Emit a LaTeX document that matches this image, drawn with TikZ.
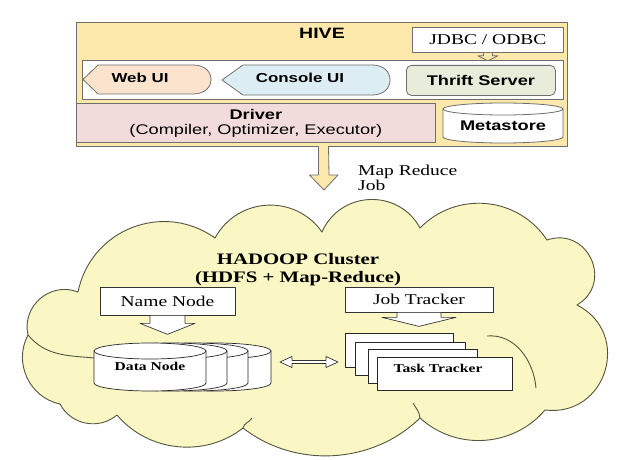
\documentclass[tikz,border=0pt]{standalone}
\usepackage{fontspec}
\setmainfont{Liberation Serif}[FakeStretch=1.3]
\setsansfont{Liberation Sans}[FakeStretch=1.3]
\usetikzlibrary{calc}
\definecolor{hivefill}{HTML}{FCE8AA}
\definecolor{drvfill}{HTML}{F2DCDB}
\definecolor{webfill}{HTML}{FBE3CD}
\definecolor{confill}{HTML}{DCEEF4}
\definecolor{thrfill}{HTML}{E8ECDA}
\definecolor{cloudfill}{HTML}{FAF7C4}
\definecolor{edgec}{HTML}{6E6E6E}
\definecolor{cloudedge}{HTML}{55553F}
\newcommand{\mycyl}[7]{%
  \filldraw[#7] (#1,#3) -- (#1,#4) arc[start angle=180,end angle=360,x radius=#5pt,y radius=#6pt] -- (#2,#3) -- cycle;
  \filldraw[#7] ({(#1+#2)/2},#3) ellipse[x radius=#5pt,y radius=#6pt];}
\begin{document}
\begin{tikzpicture}[x=1pt,y=-1pt,line join=round,
  hiveline/.style={draw=edgec,line width=0.8pt},
  sfb/.style={inner sep=0pt,font=\sffamily\bfseries\fontsize{13}{15}\selectfont},
  serifbox/.style={draw=black!80,line width=0.7pt,fill=white,inner sep=0pt,font=\fontsize{15}{17}\selectfont},
  cylst/.style={draw=black!85,line width=0.7pt,fill=white},
  blk/.style={draw=black!80,line width=0.7pt,fill=white},
  sheet/.style={draw=black!85,line width=0.7pt,fill=white,inner sep=0pt},
  cloudline/.style={draw=cloudedge,line width=0.9pt}]
\useasboundingbox (0,0) rectangle (621,460);
\fill[white] (0,0) rectangle (621,460);

% ---------------- HIVE ----------------
\node[hiveline,fill=hivefill,anchor=north west,minimum width=491pt,minimum height=124pt,inner sep=0pt] (hive) at (76,22) {};
\node[sfb,font=\sffamily\bfseries\fontsize{15}{17}\selectfont] (hivelbl) at (322,33) {HIVE};
\node[hiveline,fill=white,anchor=north west,minimum width=151pt,minimum height=25pt,inner sep=0pt,font=\fontsize{15}{17}\selectfont] (jdbc) at (412,27) {JDBC / ODBC};
\node[hiveline,fill=white,anchor=north west,minimum width=481pt,minimum height=39pt,inner sep=0pt] (strip) at (82,60) {};
\filldraw[hiveline,fill=webfill] (83,79.5) -- (98,65) -- (193,65) .. controls (205,65) and (211,72) .. (211,79.5) .. controls (211,87) and (205,94) .. (193,94) -- (98,94) -- cycle;
\node[sfb] (webl) at (140,78) {Web UI};
\filldraw[hiveline,fill=confill] (222,80) -- (243,65) -- (372,65) .. controls (384,65) and (390,72) .. (390,80) .. controls (390,88) and (384,95) .. (372,95) -- (243,95) -- cycle;
\node[sfb] (conl) at (300,78) {Console UI};
\node[hiveline,fill=thrfill,rounded corners=5pt,anchor=north west,minimum width=149pt,minimum height=30pt,inner sep=0pt,
      font=\sffamily\bfseries\fontsize{14}{16}\selectfont] (thr) at (406,65) {Thrift Server};
\node[hiveline,fill=drvfill,anchor=north west,minimum width=359pt,minimum height=39pt,inner sep=0pt,align=center,
      font=\sffamily\fontsize{14}{15}\selectfont] (drv) at (76,103) {\textbf{Driver}\\(Compiler, Optimizer, Executor)};
\mycyl{443}{563}{109}{137}{60}{6}{hiveline,fill=white}
\node[sfb,font=\sffamily\bfseries\fontsize{14}{16}\selectfont] (meta) at (503,126) {Metastore};
% small arrow JDBC -> Thrift
\filldraw[hiveline,fill=hivefill] ($(jdbc.south)+(-4.5,0)$) -- ++(0,3) -- ++(-5.5,0) -- ($(jdbc.south)+(0,8)$) -- ++(10,-5) -- ++(-5.5,0) -- ($(jdbc.south)+(4.5,0)$);

% ---------------- Map Reduce arrow ----------------
\coordinate (mrs) at (323.5,145);
\fill[hivefill] ($(mrs)+(-5,0)$) -- ++(0,30) -- ++(-9,0) -- ($(mrs)+(0.5,45)$) -- ++(14,-15) -- ++(-9,0) -- ($(mrs)+(5,0)$) -- cycle;
\draw[edgec,line width=0.8pt] ($(mrs)+(-5,1)$) -- ++(0,29) -- ++(-9,0) -- ($(mrs)+(0.5,45)$) -- ++(14,-15) -- ++(-9,0) -- ($(mrs)+(5,1)$);
\node[anchor=west,align=left,inner sep=0pt,font=\fontsize{15}{15}\selectfont] (mrj) at (358,177.5) {Map Reduce\\Job};

% ---------------- Cloud ----------------
\filldraw[fill=cloudfill,cloudline]
  (60,404) to[bend left=53,looseness=1.06] (28,335)
  to[bend left=62,looseness=1.15] (78,292)
  to[bend left=57,looseness=1.11] (215,238)
  to[bend left=58,looseness=1.12] (322,232)
  to[bend left=64,looseness=1.18] (420,228)
  to[bend left=51,looseness=1.05] (547,240)
  to[bend left=84,looseness=1.54] (577,305)
  to[bend left=80,looseness=1.45] (545,410)
  to[bend left=46,looseness=1.0] (420,418)
  to[bend left=41,looseness=0.96] (243,428)
  to[bend left=44,looseness=0.98] (117,415)
  to[bend left=51,looseness=1.05] (60,404) -- cycle;
\draw[cloudline] (28,335) to[out=-50,in=175] (95,358);
\draw[cloudline] (487,336) to[out=5,in=95] (536,388);
\draw[cloudline] (420,418) to[out=95,in=-60] (413,403);
\draw[cloudline] (243,428) to[out=80,in=-120] (252,418);

\node[inner sep=0pt,align=center,font=\bfseries\fontsize{16}{18}\selectfont] (hc) at (298,270) {HADOOP Cluster\\(HDFS + Map-Reduce)};

% Name node / data nodes
\node[serifbox,minimum width=135pt,minimum height=28pt] (nn) at (167.5,301) {Name Node};
\filldraw[blk] ($(nn.south)+(-17.5,0)$) -- ++(0,8) -- ++(-10,0) -- ($(nn.south)+(0,19)$) -- ++(27.5,-11) -- ++(-10,0) -- ($(nn.south)+(17.5,0)$) -- cycle;
\mycyl{159}{271}{351}{383}{56}{8}{cylst}
\mycyl{137}{248}{351}{383}{55.5}{8}{cylst}
\mycyl{115}{227}{351}{383}{56}{8}{cylst}
\mycyl{94}{206}{351}{383}{56}{8}{cylst}
\node[inner sep=0pt,font=\bfseries\fontsize{12}{14}\selectfont] (dn) at (150,366) {Data Node};

% Job tracker / task trackers
\node[serifbox,minimum width=148pt,minimum height=25pt] (jt) at (419,299.5) {Job Tracker};
\filldraw[blk] ($(jt.south)+(-22,0)$) -- ++(0,5) -- ++(-15,0) -- ($(jt.south)+(0,14)$) -- ++(37,-9) -- ++(-15,0) -- ($(jt.south)+(22,0)$) -- cycle;
\node[sheet,anchor=north west,minimum width=108pt,minimum height=34pt] (tt1) at (345,333) {};
\node[sheet,anchor=north west,minimum width=110pt,minimum height=33pt] (tt2) at (355,342) {};
\node[sheet,anchor=north west,minimum width=109pt,minimum height=34pt] (tt3) at (368,349) {};
\node[sheet,anchor=north west,minimum width=135pt,minimum height=33pt] (tt4) at (377,357) {};
\node[inner sep=0pt,font=\bfseries\fontsize{12}{14}\selectfont] (ttl) at (438,368) {Task Tracker};

% double arrow
\coordinate (da) at (280,362);
\coordinate (db) at (338,362);
\filldraw[blk] (da) -- ++(12,-5.5) -- ++(0,4) -- ($(db)+(-12,-1.5)$) -- ++(0,-4) -- (db) -- ++(-12,5.5) -- ++(0,-4) -- ($(da)+(12,1.5)$) -- ++(0,4) -- cycle;
\end{tikzpicture}
\end{document}
